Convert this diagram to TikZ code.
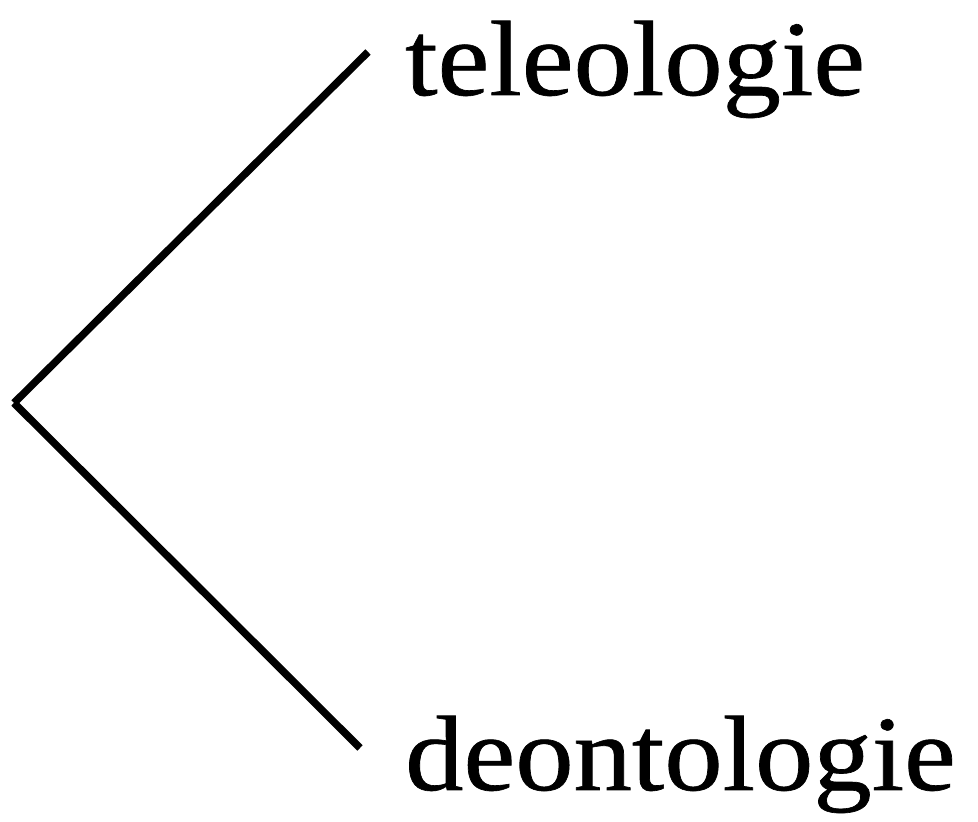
\documentclass[tikz,border=0pt]{standalone}
\usepackage{fontspec}
\setmainfont{Liberation Serif}
\newfontfamily\leaffont[FakeBold=0.6]{Liberation Serif}
\begin{document}
\begin{tikzpicture}[x=1pt,y=1pt,
  branch/.style={line width=7.5pt},
  leaf/.style={anchor=base west,inner sep=0pt,font=\leaffont\fontsize{107}{107}\selectfont}]
\useasboundingbox (0,0) rectangle (978,822);
\coordinate (root) at (14,419);
\coordinate (tend) at (368,770);
\coordinate (dend) at (360,74);
\node[leaf] (tel) at (405,727) {\scalebox{1.09}[1]{teleologie}};
\node[leaf] (deo) at (405,32) {\scalebox{1.09}[1]{deontologie}};
\draw[branch] (root) -- (tend);
\draw[branch] (root) -- (dend);
\end{tikzpicture}
\end{document}
